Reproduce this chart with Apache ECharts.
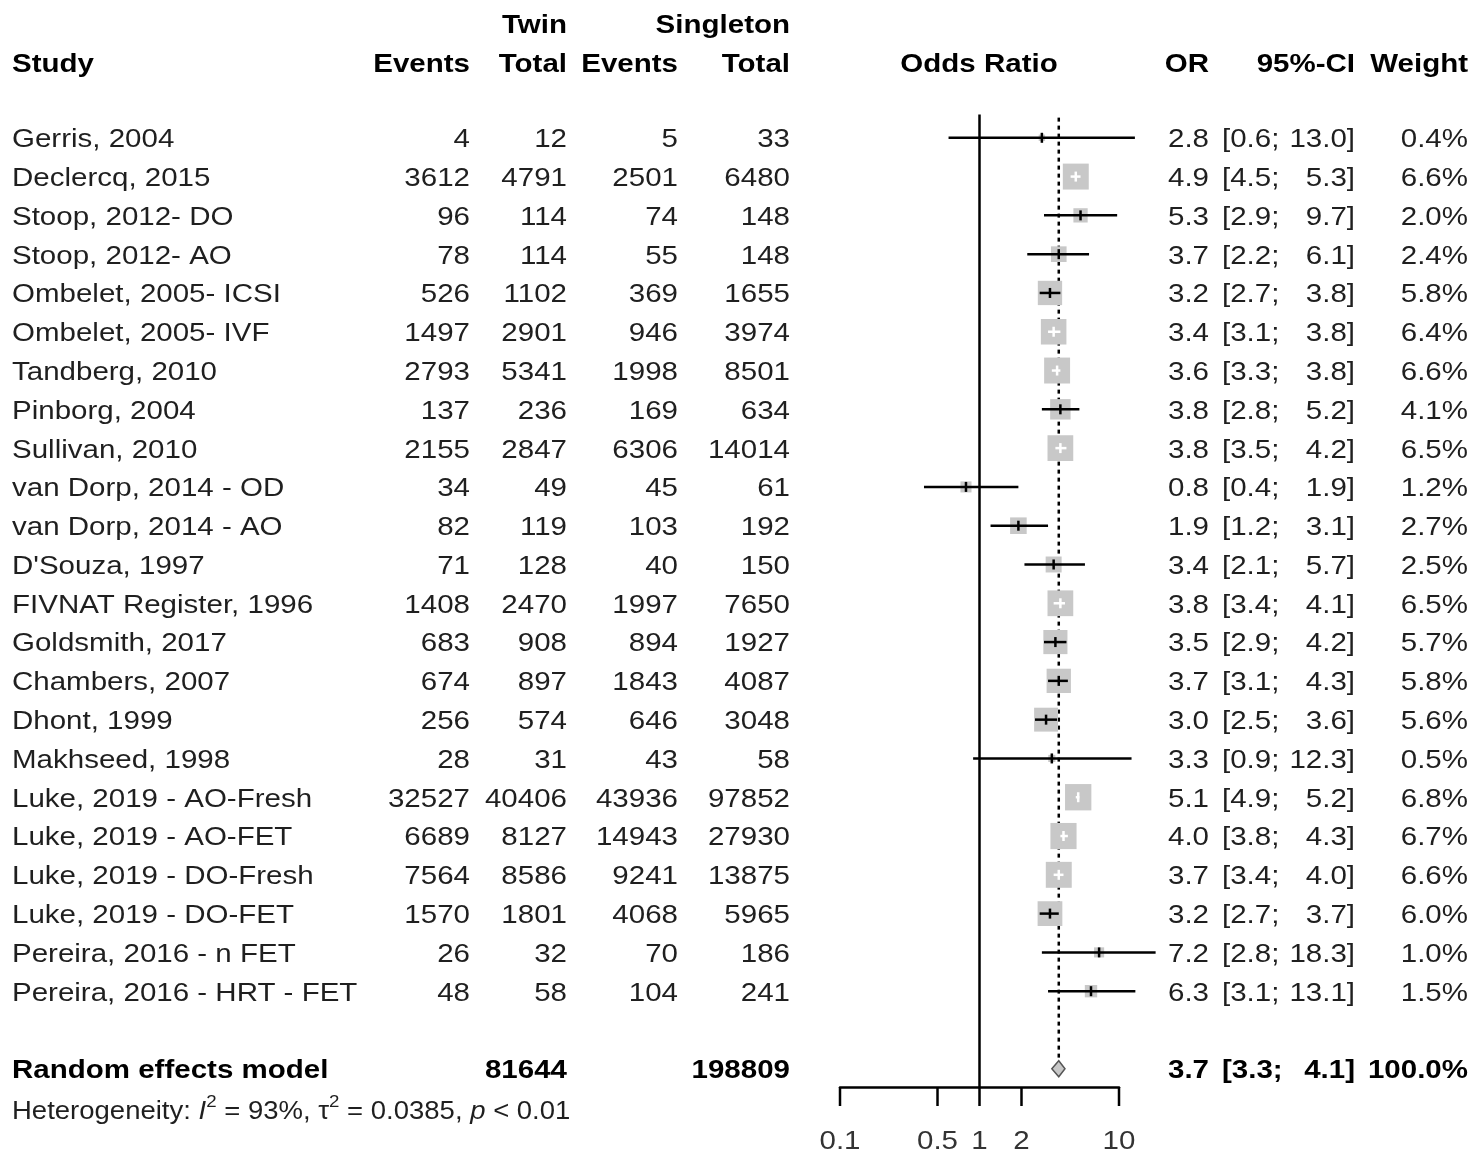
<!DOCTYPE html>
<html><head><meta charset="utf-8">
<script src="https://cdn.jsdelivr.net/npm/echarts@6/dist/echarts.min.js"></script>
<style>html,body{margin:0;padding:0;background:#fff}#chart{width:1479px;height:1167px}</style>
</head><body><div id="chart"></div>
<script>
// ---------- data ----------
const studies = ["Gerris, 2004","Declercq, 2015","Stoop, 2012- DO","Stoop, 2012- AO","Ombelet, 2005- ICSI","Ombelet, 2005- IVF","Tandberg, 2010","Pinborg, 2004","Sullivan, 2010","van Dorp, 2014 - OD","van Dorp, 2014 - AO","D'Souza, 1997","FIVNAT Register, 1996","Goldsmith, 2017","Chambers, 2007","Dhont, 1999","Makhseed, 1998","Luke, 2019 - AO-Fresh","Luke, 2019 - AO-FET","Luke, 2019 - DO-Fresh","Luke, 2019 - DO-FET","Pereira, 2016 - n FET","Pereira, 2016 - HRT - FET"];
const twinEvents = [4,3612,96,78,526,1497,2793,137,2155,34,82,71,1408,683,674,256,28,32527,6689,7564,1570,26,48];
const twinTotal  = [12,4791,114,114,1102,2901,5341,236,2847,49,119,128,2470,908,897,574,31,40406,8127,8586,1801,32,58];
const singEvents = [5,2501,74,55,369,946,1998,169,6306,45,103,40,1997,894,1843,646,43,43936,14943,9241,4068,70,104];
const singTotal  = [33,6480,148,148,1655,3974,8501,634,14014,61,192,150,7650,1927,4087,3048,58,97852,27930,13875,5965,186,241];
const orValues   = [2.8,4.9,5.3,3.7,3.2,3.4,3.6,3.8,3.8,0.8,1.9,3.4,3.8,3.5,3.7,3.0,3.3,5.1,4.0,3.7,3.2,7.2,6.3];
const ciLower    = [0.6,4.5,2.9,2.2,2.7,3.1,3.3,2.8,3.5,0.4,1.2,2.1,3.4,2.9,3.1,2.5,0.9,4.9,3.8,3.4,2.7,2.8,3.1];
const ciUpper    = [13.0,5.3,9.7,6.1,3.8,3.8,3.8,5.2,4.2,1.9,3.1,5.7,4.1,4.2,4.3,3.6,12.3,5.2,4.3,4.0,3.7,18.3,13.1];
const weights    = [0.4,6.6,2.0,2.4,5.8,6.4,6.6,4.1,6.5,1.2,2.7,2.5,6.5,5.7,5.8,5.6,0.5,6.8,6.7,6.6,6.0,1.0,1.5];
const summaryLabel = "Random effects model";
const summaryTwinTotal = 81644;
const summarySingTotal = 198809;
const summaryOR = 3.7, summaryLower = 3.3, summaryUpper = 4.1, summaryWeight = 100.0;
const heterogeneity = {i2: "93%", tau2: "0.0385", p: "< 0.01"};
const axisTickValues = [0.1, 0.5, 1, 2, 10];
const axisTickLabels = ["0.1", "0.5", "1", "2", "10"];

// ---------- layout ----------
const FONT = "'Liberation Sans', Arial, sans-serif";
const FS = 25, SX = 1.18, TEXT_DY = 2.5;
const COL = {study: 12, tEv: 470, tTot: 567, sEv: 678, sTot: 790, orat: 979, or: 1209, ciL: 1222, ciR: 1355, w: 1468};
const Y_MIN = -1, Y_MAX = 24.47;
const SUMMARY_ROW = studies.length + 1;
const HET_ROW = SUMMARY_ROW + 1.05;

const f1 = v => v.toFixed(1);
function cell(text, x, align, bold) { return {text: String(text), x, align, bold: !!bold}; }

const tableRows = [];
tableRows.push({row: -2.95, cells: [cell("Twin", COL.tTot, 'right', 1), cell("Singleton", COL.sTot, 'right', 1)]});
tableRows.push({row: -1.93, cells: [cell("Study", COL.study, 'left', 1), cell("Events", COL.tEv, 'right', 1), cell("Total", COL.tTot, 'right', 1),
  cell("Events", COL.sEv, 'right', 1), cell("Total", COL.sTot, 'right', 1), cell("Odds Ratio", COL.orat, 'center', 1),
  cell("OR", COL.or, 'right', 1), cell("95%-CI", COL.ciR, 'right', 1), cell("Weight", COL.w, 'right', 1)]});
studies.forEach((s, i) => {
  tableRows.push({row: i, cells: [cell(s, COL.study, 'left'), cell(twinEvents[i], COL.tEv, 'right'), cell(twinTotal[i], COL.tTot, 'right'),
    cell(singEvents[i], COL.sEv, 'right'), cell(singTotal[i], COL.sTot, 'right'), cell(f1(orValues[i]), COL.or, 'right'),
    cell("[" + f1(ciLower[i]) + ";", COL.ciL, 'left'), cell(f1(ciUpper[i]) + "]", COL.ciR, 'right'), cell(f1(weights[i]) + "%", COL.w, 'right')]});
});
tableRows.push({row: SUMMARY_ROW, cells: [cell(summaryLabel, COL.study, 'left', 1), cell(summaryTwinTotal, COL.tTot, 'right', 1),
  cell(summarySingTotal, COL.sTot, 'right', 1), cell(f1(summaryOR), COL.or, 'right', 1), cell("[" + f1(summaryLower) + ";", COL.ciL, 'left', 1),
  cell(f1(summaryUpper) + "]", COL.ciR, 'right', 1), cell(f1(summaryWeight) + "%", COL.w, 'right', 1)]});

const chart = echarts.init(document.getElementById('chart'), null, {renderer: 'canvas'});

const option = {
  backgroundColor: '#fff',
  animation: false,
  grid: {left: 840, right: 360, top: 99, bottom: 80, containLabel: false},
  xAxis: {type: 'log', logBase: 10, min: 0.1, max: 10, position: 'bottom',
    axisLine: {show: true, onZero: false, lineStyle: {color: '#000', width: 2.5}},
    axisTick: {show: false}, axisLabel: {show: false}, splitLine: {show: false}},
  yAxis: {type: 'value', inverse: true, min: Y_MIN, max: Y_MAX, show: false},
  series: [
    { // line of no effect
      type: 'line', clip: false, symbol: 'none', silent: true, z: 1,
      data: [[1, -0.6], [1, Y_MAX]],
      lineStyle: {color: '#000', width: 2.5}
    },
    { // summary estimate dotted line
      type: 'line', clip: false, symbol: 'none', silent: true, z: 1,
      data: [[summaryOR, -0.52], [summaryOR, SUMMARY_ROW - 0.26]],
      lineStyle: {color: '#000', width: 2.5, type: [4, 4]}
    },
    { // studies: squares + CIs
      type: 'custom', clip: false, silent: true, z: 3,
      encode: {x: [0, 1, 2], y: 3},
      data: studies.map((s, i) => [orValues[i], ciLower[i], ciUpper[i], i, weights[i]]),
      renderItem: function (params, api) {
        const row = api.value(3), w = api.value(4);
        const c = api.coord([api.value(0), row]);
        const l = api.coord([api.value(1), row]);
        const h = api.coord([api.value(2), row]);
        const side = 10.1 * Math.sqrt(w);
        const inside = (c[0] - l[0]) <= side * 0.35 && (h[0] - c[0]) <= side * 0.35;
        const col = inside ? '#fff' : '#000';
        return {type: 'group', children: [
          {type: 'rect', shape: {x: c[0] - side / 2, y: c[1] - side / 2, width: side, height: side}, style: {fill: '#c8c8c8'}},
          {type: 'line', shape: {x1: l[0], y1: c[1], x2: h[0], y2: c[1]}, style: {stroke: col, lineWidth: 2.5}},
          {type: 'line', shape: {x1: c[0], y1: c[1] - 5, x2: c[0], y2: c[1] + 5}, style: {stroke: col, lineWidth: 2.5}}
        ]};
      }
    },
    { // summary diamond
      type: 'custom', clip: false, silent: true, z: 3,
      encode: {x: [0, 1, 2], y: 3},
      data: [[summaryOR, summaryLower, summaryUpper, SUMMARY_ROW]],
      renderItem: function (params, api) {
        const row = api.value(3);
        const c = api.coord([api.value(0), row]);
        const l = api.coord([api.value(1), row]);
        const h = api.coord([api.value(2), row]);
        return {type: 'polygon', shape: {points: [[l[0], c[1]], [c[0], c[1] - 8], [h[0], c[1]], [c[0], c[1] + 8]]},
          style: {fill: '#c8c8c8', stroke: '#555', lineWidth: 1.5}};
      }
    },
    { // axis ticks + labels
      type: 'custom', clip: false, silent: true, z: 3,
      encode: {x: 0, y: 1},
      data: axisTickValues.map(v => [v, Y_MAX]),
      renderItem: function (params, api) {
        const p = api.coord([api.value(0), api.value(1)]);
        return {type: 'group', children: [
          {type: 'line', shape: {x1: p[0], y1: p[1], x2: p[0], y2: p[1] + 19}, style: {stroke: '#000', lineWidth: 2.5}},
          {type: 'text', x: p[0], y: p[1] + 55, scaleX: SX,
            style: {text: axisTickLabels[params.dataIndex], align: 'center', verticalAlign: 'middle',
              fontSize: FS, fontFamily: FONT, fill: '#333'}}
        ]};
      }
    },
    { // table text
      type: 'custom', clip: false, silent: true, z: 4,
      encode: {x: 0, y: 1},
      data: tableRows.map(r => [1, r.row]),
      renderItem: function (params, api) {
        const r = tableRows[params.dataIndex];
        const y = api.coord([1, api.value(1)])[1] + TEXT_DY;
        return {type: 'group', children: r.cells.map(c => ({
          type: 'text', x: c.x, y: y, scaleX: SX,
          style: {text: c.text, align: c.align, verticalAlign: 'middle', fontSize: FS,
            fontWeight: c.bold ? 'bold' : 'normal', fontFamily: FONT, fill: c.bold ? '#000' : '#1f1f1f'}
        }))};
      }
    },
    { // heterogeneity line
      type: 'custom', clip: false, silent: true, z: 4,
      encode: {x: 0, y: 1},
      data: [[1, HET_ROW]],
      renderItem: function (params, api) {
        const y = api.coord([1, api.value(1)])[1] + TEXT_DY;
        const base = {fontSize: FS, fontFamily: FONT, fill: '#1f1f1f', lineHeight: 36, verticalAlign: 'middle'};
        return {type: 'text', x: COL.study, y: y, scaleX: 1.1,
          style: {
            text: '{a|Heterogeneity: }{i|I}{s|2}{a| = ' + heterogeneity.i2 + ', τ}{s|2}{a| = ' + heterogeneity.tau2 + ', }{i|p}{a| ' + heterogeneity.p + '}',
            align: 'left', verticalAlign: 'middle', fontSize: FS, fontFamily: FONT, fill: '#1f1f1f',
            rich: {
              a: base,
              i: Object.assign({}, base, {fontStyle: 'italic'}),
              s: {fontSize: 17, fontFamily: FONT, fill: '#1f1f1f', lineHeight: 17, verticalAlign: 'top'}
            }
          }};
      }
    }
  ]
};
chart.setOption(option);
</script>
</body></html>
